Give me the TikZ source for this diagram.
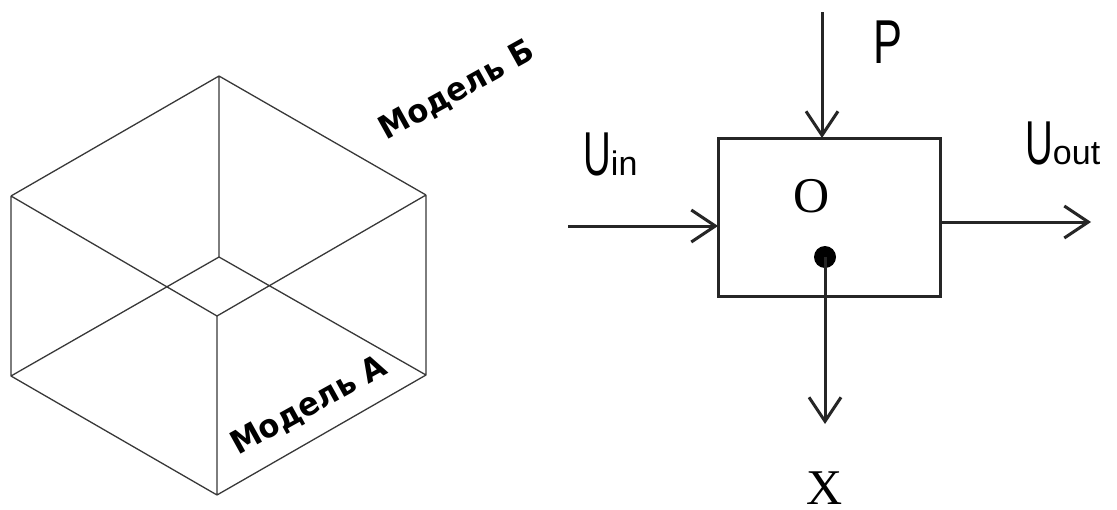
\documentclass[tikz,border=0pt]{standalone}
\usepackage{fontspec}
\usepackage{graphicx}
\usetikzlibrary{arrows.meta}
\setmainfont{Liberation Sans}
\newfontfamily\modfont{DejaVu Sans}
\newfontfamily\serfont{Liberation Serif}
\begin{document}
\begin{tikzpicture}[x=1pt,y=-1pt,
  edge/.style={draw=black!78, line width=1.3pt},
  conn/.style={draw=black!85, line width=3pt, -{Straight Barb[length=24pt,width=32pt,line width=3pt]}},
  modlabel/.style={font=\modfont\bfseries\fontsize{32}{32}\selectfont, rotate=29, inner sep=0pt},
  biglabel/.style={inner sep=0pt, anchor=base west},
  serlabel/.style={font=\serfont\fontsize{50}{50}\selectfont, inner sep=0pt}]
\useasboundingbox (0,0) rectangle (1117,509);
% cube
\coordinate (T) at (219,76);
\coordinate (LU) at (11,196);
\coordinate (RU) at (426,195);
\coordinate (I) at (219,257);
\coordinate (F) at (217,316);
\coordinate (LL) at (11,376);
\coordinate (RL) at (426,375);
\coordinate (B) at (217,495);
\draw[edge] (T) -- (LU) (T) -- (RU) (T) -- (I)
  (LU) -- (F) (RU) -- (F) (LU) -- (LL) (RU) -- (RL) (F) -- (B)
  (I) -- (LL) (I) -- (RL) (LL) -- (B) (RL) -- (B);
\node[modlabel] (mb) at (457,91) {\scalebox{0.95}[1]{Модель Б}};
\node[modlabel] (ma) at (309,406) {\scalebox{0.95}[1]{Модель А}};
% block
\node[draw=black!85, line width=3pt, minimum width=222pt, minimum height=158pt, inner sep=0pt, outer sep=0pt] (box) at (829,217) {};
\node[serlabel] (o) at (812,196) {O};
\node[circle, fill=black, minimum size=22pt, inner sep=0pt] (dot) at (825,257) {};
\coordinate (xend) at (825,424);
\draw[conn] (dot.center) -- (xend);
\node[serlabel, anchor=base] (x) at (825,504) {X};
\coordinate (ptop) at (822,12);
\draw[conn] (ptop) -- (ptop |- box.north);
\node[biglabel] (p) at (873,63) {\scalebox{0.7}[1]{\fontsize{62}{62}\selectfont P}};
\coordinate (in0) at (568,226);
\draw[conn] (in0) -- (in0 -| box.west);
\coordinate (out1) at (1091,222);
\draw[conn] (out1 -| box.east) -- (out1);
\node[biglabel] (uin) at (583,175) {\scalebox{0.62}[1]{\fontsize{62}{62}\selectfont U}\fontsize{34}{34}\selectfont in};
\node[biglabel] (uout) at (1025,164) {\scalebox{0.62}[1]{\fontsize{62}{62}\selectfont U}\fontsize{34}{34}\selectfont out};
\end{tikzpicture}
\end{document}
